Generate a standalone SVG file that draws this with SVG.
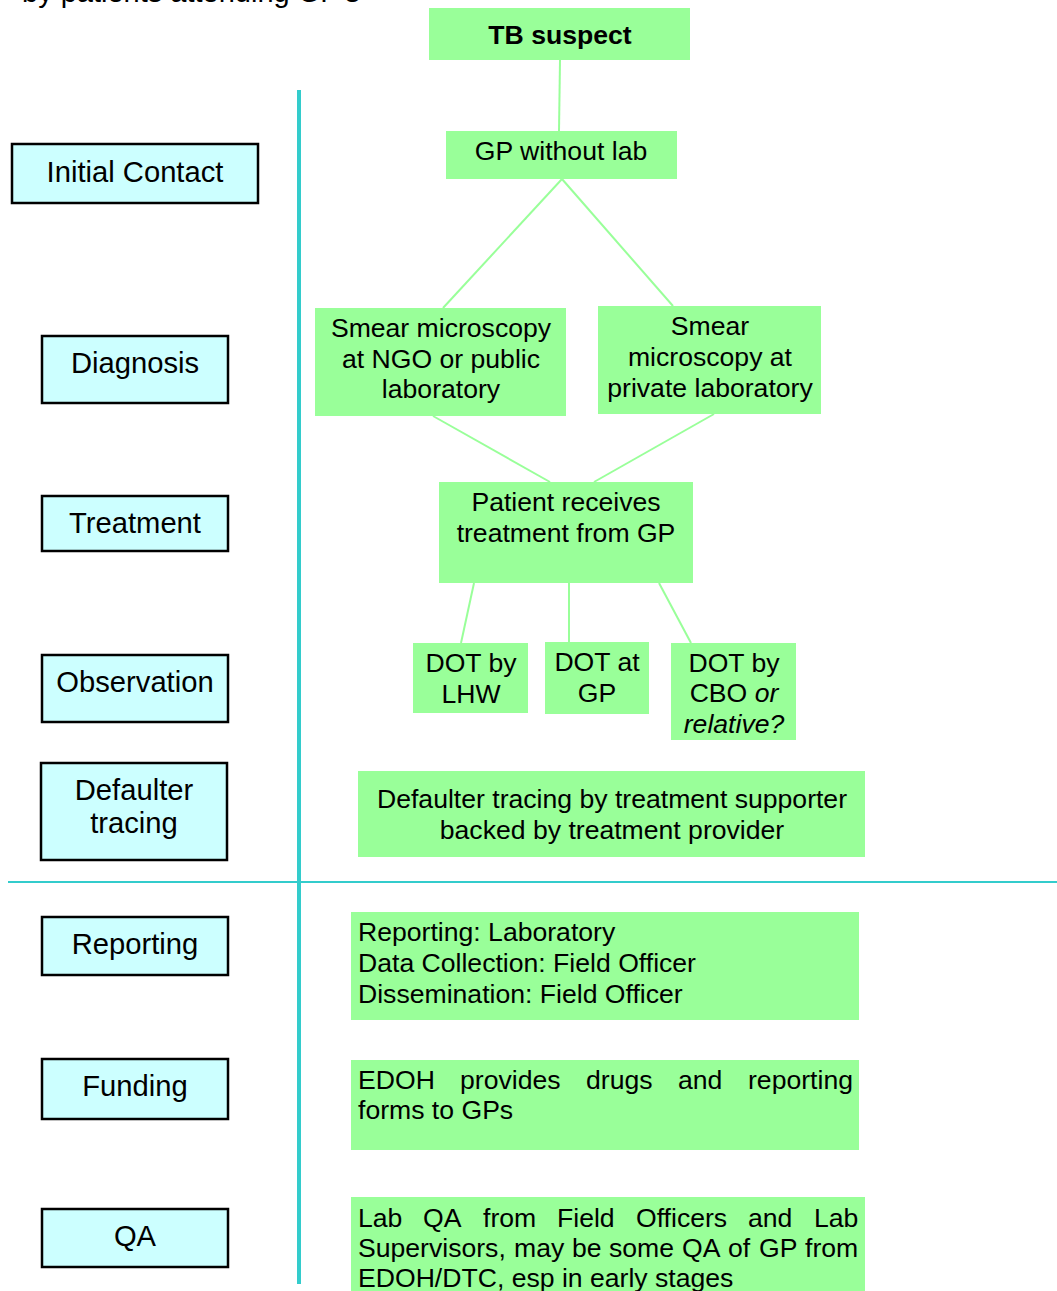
<svg xmlns="http://www.w3.org/2000/svg" width="1057" height="1291" viewBox="0 0 1057 1291">
  <style>
    text { font-family: "Liberation Sans", Arial, sans-serif; fill: #000; }
    .stage rect { fill: #ccffff; stroke: #000; stroke-width: 2.5; }
    .stage text { font-size: 29.2px; text-anchor: middle; }
    .step rect { fill: #99ff99; stroke: none; }
    .step text { font-size: 26.6px; text-anchor: middle; }
    .step text.left { text-anchor: start; }
    .divider { stroke: #33cccc; fill: none; }
    .links line { stroke: #99ff99; stroke-width: 2; }
  </style>

  <!-- heading, partly off the top edge -->
  <text x="22" y="2" font-size="29">by patients attending GP's</text>

  <!-- lane dividers -->
  <line class="divider" x1="299" y1="90" x2="299" y2="1284" stroke-width="4"/>
  <line class="divider" x1="8" y1="882" x2="1057" y2="882" stroke-width="2"/>

  <!-- stage labels on the left -->
  <g id="stage-initial-contact" class="stage">
    <rect x="12" y="144" width="246" height="59"/>
    <text x="135" y="182">Initial Contact</text>
  </g>
  <g id="stage-diagnosis" class="stage">
    <rect x="42" y="336" width="186" height="67"/>
    <text x="135" y="373">Diagnosis</text>
  </g>
  <g id="stage-treatment" class="stage">
    <rect x="42" y="496" width="186" height="55"/>
    <text x="135" y="533">Treatment</text>
  </g>
  <g id="stage-observation" class="stage">
    <rect x="42" y="655" width="186" height="67"/>
    <text x="135" y="692">Observation</text>
  </g>
  <g id="stage-defaulter" class="stage">
    <rect x="41" y="763" width="186" height="97"/>
    <text x="134" y="800">Defaulter</text>
    <text x="134" y="833">tracing</text>
  </g>
  <g id="stage-reporting" class="stage">
    <rect x="42" y="917" width="186" height="58"/>
    <text x="135" y="954">Reporting</text>
  </g>
  <g id="stage-funding" class="stage">
    <rect x="42" y="1059" width="186" height="60"/>
    <text x="135" y="1096">Funding</text>
  </g>
  <g id="stage-qa" class="stage">
    <rect x="42" y="1209" width="186" height="58"/>
    <text x="135" y="1246">QA</text>
  </g>

  <!-- connectors between process steps -->
  <g id="connectors" class="links">
    <line x1="560" y1="60" x2="559" y2="131"/>
    <line x1="562" y1="179" x2="443" y2="308"/>
    <line x1="562" y1="179" x2="673" y2="306"/>
    <line x1="433" y1="416" x2="550" y2="482"/>
    <line x1="714" y1="414" x2="594" y2="482"/>
    <line x1="474" y1="583" x2="461" y2="643"/>
    <line x1="569" y1="583" x2="569" y2="642"/>
    <line x1="659" y1="583" x2="691" y2="643"/>
  </g>

  <!-- process steps -->
  <g id="tb-suspect" class="step">
    <rect x="429" y="8" width="261" height="52"/>
    <text x="560" y="44" font-weight="bold" font-size="26">TB suspect</text>
  </g>
  <g id="gp-without-lab" class="step">
    <rect x="446" y="131" width="231" height="48"/>
    <text x="561" y="160">GP without lab</text>
  </g>
  <g id="smear-public" class="step">
    <rect x="315" y="308" width="251" height="108"/>
    <text x="441" y="337">Smear microscopy</text>
    <text x="441" y="368">at NGO or public</text>
    <text x="441" y="398">laboratory</text>
  </g>
  <g id="smear-private" class="step">
    <rect x="598" y="306" width="223" height="108"/>
    <text x="710" y="335">Smear</text>
    <text x="710" y="366">microscopy at</text>
    <text x="710" y="397">private laboratory</text>
  </g>
  <g id="gp-treatment" class="step">
    <rect x="439" y="482" width="254" height="101"/>
    <text x="566" y="511">Patient receives</text>
    <text x="566" y="542">treatment from GP</text>
  </g>
  <g id="dot-lhw" class="step">
    <rect x="413" y="643" width="115" height="70"/>
    <text x="471" y="672">DOT by</text>
    <text x="471" y="703">LHW</text>
  </g>
  <g id="dot-gp" class="step">
    <rect x="545" y="642" width="104" height="72"/>
    <text x="597" y="671">DOT at</text>
    <text x="597" y="702">GP</text>
  </g>
  <g id="dot-cbo" class="step">
    <rect x="671" y="643" width="125" height="97"/>
    <text x="734" y="672">DOT by</text>
    <text x="734" y="702">CBO <tspan font-style="italic">or</tspan></text>
    <text x="734" y="733" font-style="italic">relative?</text>
  </g>
  <g id="defaulter-tracing" class="step">
    <rect x="358" y="771" width="507" height="86"/>
    <text x="612" y="808">Defaulter tracing by treatment supporter</text>
    <text x="612" y="839">backed by treatment provider</text>
  </g>
  <g id="reporting" class="step">
    <rect x="351" y="912" width="508" height="108"/>
    <text class="left" x="358" y="941">Reporting: Laboratory</text>
    <text class="left" x="358" y="972">Data Collection: Field Officer</text>
    <text class="left" x="358" y="1003">Dissemination: Field Officer</text>
  </g>
  <g id="funding" class="step">
    <rect x="351" y="1060" width="508" height="90"/>
    <text class="left" y="1089"><tspan x="358">EDOH</tspan><tspan x="460">provides</tspan><tspan x="586">drugs</tspan><tspan x="678">and</tspan><tspan x="748">reporting</tspan></text>
    <text class="left" x="358" y="1119">forms to GPs</text>
  </g>
  <g id="quality-assurance" class="step">
    <rect x="351" y="1197" width="514" height="94"/>
    <text class="left" y="1227"><tspan x="358">Lab</tspan><tspan x="423">QA</tspan><tspan x="483">from</tspan><tspan x="557">Field</tspan><tspan x="636">Officers</tspan><tspan x="748">and</tspan><tspan x="814">Lab</tspan></text>
    <text class="left" y="1257"><tspan x="358">Supervisors,</tspan><tspan x="514">may</tspan><tspan x="572">be</tspan><tspan x="609">some</tspan><tspan x="682">QA</tspan><tspan x="728">of</tspan><tspan x="759">GP</tspan><tspan x="805">from</tspan></text>
    <text class="left" x="358" y="1287">EDOH/DTC, esp in early stages</text>
  </g>
</svg>
